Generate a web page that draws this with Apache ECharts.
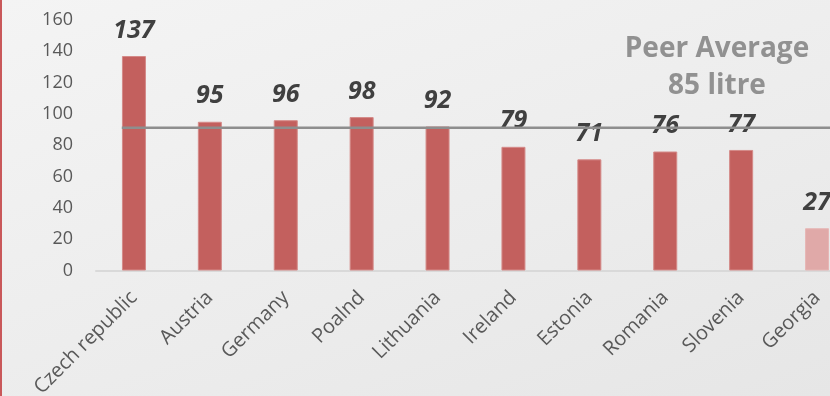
<!DOCTYPE html>
<html>
<head>
<meta charset="utf-8">
<script src="https://cdn.jsdelivr.net/npm/echarts@6/dist/echarts.min.js"></script>
<style>
  html, body { margin: 0; padding: 0; width: 830px; height: 396px; overflow: hidden; }
  body { background: linear-gradient(160deg, #f4f4f4 0%, #ececec 60%, #e6e6e6 100%); position: relative; }
  #edge { position: absolute; left: 0; top: 0; width: 2px; height: 396px; background: #c9585a; z-index: 2; }
  #chart { position: absolute; left: 0; top: 0; width: 900px; height: 396px; }
</style>
</head>
<body>
<div id="edge"></div>
<div id="chart"></div>
<script>
// Consumption per country (litres)
const countries = ['Czech republic', 'Austria', 'Germany', 'Poalnd', 'Lithuania', 'Ireland', 'Estonia', 'Romania', 'Slovenia', 'Georgia'];
const litres = [137, 95, 96, 98, 92, 79, 71, 76, 77, 27];
const focusCountry = 'Georgia';
// Level of the peer reference line
const peerLineValue = 91.2;
const peerCaption = ['Peer Average', '85 litre'];
const yTicks = { min: 0, max: 160, step: 20 };

const chart = echarts.init(document.getElementById('chart'), null, { renderer: 'canvas' });

const barData = litres.map((v, i) => ({
  value: v,
  itemStyle: countries[i] === focusCountry
    ? { color: '#e0a9a8', borderColor: '#e6b6b5' }
    : { color: '#c3605e', borderColor: '#d48a88' }
}));

chart.setOption({
  backgroundColor: 'transparent',
  animation: false,
  grid: { left: 96, right: 45, top: 20, bottom: 125.5, containLabel: false, outerBoundsMode: 'none' },
  xAxis: [
    {
      type: 'category',
      data: countries,
      axisLine: { lineStyle: { color: '#d9d9d9', width: 2 } },
      axisTick: { show: false },
      axisLabel: {
        rotate: 45,
        margin: 24,
        fontSize: 20,
        color: '#595959',
        fontFamily: 'Open Sans'
      }
    },
    {
      type: 'value',
      min: -0.5,
      max: countries.length - 0.5,
      show: false
    }
  ],
  yAxis: {
    type: 'value',
    min: yTicks.min,
    max: yTicks.max,
    interval: yTicks.step,
    axisLine: { show: false },
    axisTick: { show: false },
    splitLine: { show: false },
    axisLabel: { fontSize: 18, color: '#595959', margin: 23, fontFamily: 'Open Sans' }
  },
  series: [
    {
      type: 'bar',
      data: barData,
      barWidth: 24,
      itemStyle: { borderWidth: 1 },
      label: {
        show: true,
        position: 'top',
        distance: 13,
        fontSize: 25,
        fontWeight: 'bold',
        fontStyle: 'italic',
        color: '#404040',
        fontFamily: 'Open Sans'
      },
      z: 2
    },
    {
      type: 'line',
      xAxisIndex: 1,
      data: [[-0.16, peerLineValue], [countries.length - 0.5, peerLineValue]],
      symbol: 'none',
      lineStyle: { color: '#8e8e8e', width: 2.5 },
      z: 3
    }
  ],
  graphic: [
    {
      type: 'text',
      x: 717,
      y: 31,
      style: {
        text: peerCaption.join('\n'),
        textAlign: 'center',
        fontSize: 28,
        lineHeight: 37,
        fontWeight: 'bold',
        fill: '#919191',
        fontFamily: 'Open Sans'
      }
    }
  ]
});
</script>
</body>
</html>
